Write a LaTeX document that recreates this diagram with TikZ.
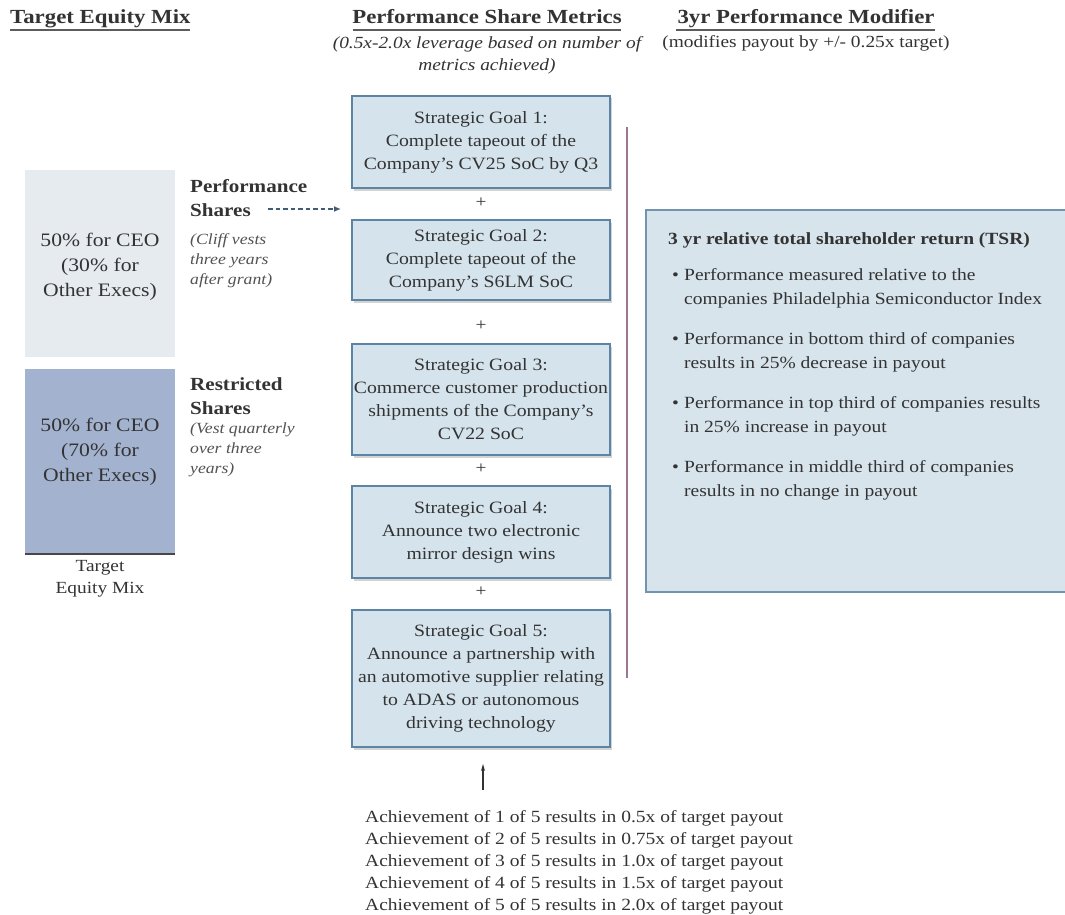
\documentclass[tikz,border=0pt]{standalone}
\usepackage{fontspec}
\setmainfont{Liberation Serif}[FakeStretch=1.14]
\usetikzlibrary{shadows,arrows.meta}
\definecolor{txt}{HTML}{333333}
\definecolor{lightbar}{HTML}{E6EBF0}
\definecolor{darkbar}{HTML}{A3B3CF}
\definecolor{goalfill}{HTML}{D5E3EC}
\definecolor{goaledge}{HTML}{5C84A5}
\definecolor{tsrfill}{HTML}{D7E4EC}
\definecolor{tsredge}{HTML}{7294B0}
\definecolor{vline}{HTML}{9A7892}
\tikzset{
  hdr/.style={font=\bfseries\fontsize{20}{23}\selectfont, text=txt, inner sep=0pt},
  sub/.style={font=\fontsize{17}{22}\selectfont, text=txt, inner sep=0pt, align=center},
  goalbox/.style={draw=goaledge, line width=1.2pt, fill=goalfill, minimum width=258pt, align=center,
     font=\fontsize{17.3}{23}\selectfont, text=txt, inner sep=0pt,
     drop shadow={shadow xshift=2pt, shadow yshift=-2.5pt, opacity=0.35}},
  bartext/.style={font=\fontsize{19}{25}\selectfont, text=txt, align=center, inner sep=0pt},
  sidebold/.style={font=\bfseries\fontsize{18.5}{24}\selectfont, text=txt, align=left, anchor=north west, inner sep=0pt},
  sideital/.style={font=\itshape\fontsize{15.5}{20}\selectfont, text=txt!85, align=left, anchor=north west, inner sep=0pt},
  plus/.style={font=\fontsize{17}{20}\selectfont, text=txt, inner sep=0pt},
  body/.style={font=\fontsize{17.1}{22}\selectfont, text=txt, inner sep=0pt, align=left},
}
\begin{document}
\begin{tikzpicture}[x=1pt,y=-1pt]
\useasboundingbox (0,0) rectangle (1065,915);
% headers
\node[hdr, anchor=base west] (h1) at (10,24) {Target Equity Mix};
\draw[txt!80, line width=1.6pt] (10,30) -- (190,30);
\node[hdr, anchor=base] (h2) at (487,24) {Performance Share Metrics};
\draw[txt!80, line width=1.6pt] (353,30) -- (621,30);
\node[sub, font=\itshape\fontsize{17}{22}\selectfont, anchor=north] (s2) at (487,36) {(0.5x-2.0x leverage based on number of\\metrics achieved)};
\node[hdr, anchor=base] (h3) at (806,24) {3yr Performance Modifier};
\draw[txt!80, line width=1.6pt] (676,30) -- (935,30);
\node[sub, anchor=north] (s3) at (806,35) {(modifies payout by +/- 0.25x target)};

% equity bars
\node[fill=lightbar, minimum width=150pt, minimum height=187pt, inner sep=0pt] (bar1) at (100,263.5) {};
\node[bartext] (bt1) at (100,267) {50\% for CEO\\(30\% for\\Other Execs)};
\node[fill=darkbar, minimum width=150pt, minimum height=185pt, inner sep=0pt] (bar2) at (100,461.5) {};
\node[bartext] (bt2) at (100,452) {50\% for CEO\\(70\% for\\Other Execs)};
\draw[txt!90, line width=2pt] (bar2.south west) -- (bar2.south east);
\node[sub, anchor=north] (tem) at (100,560) {Target\\Equity Mix};

% side labels
\node[sidebold] (ps) at (190,179) {Performance\\Shares};
\node[sideital] (psi) at (190,233) {(Cliff vests\\three years\\after grant)};
\node[sidebold] (rs) at (190,377) {Restricted\\Shares};
\node[sideital] (rsi) at (190,423) {(Vest quarterly\\over three\\years)};
\coordinate (da) at (268,209);
\coordinate (db) at (341,209);
\draw[goaledge!70!black, line width=1.4pt, dash pattern=on 4.5pt off 3pt, -{Latex[length=7pt,width=6pt]}] (da) -- (db);

% goal boxes
\node[goalbox, minimum height=92pt] (g1) at (481,142) {Strategic Goal 1:\\Complete tapeout of the\\Company’s CV25 SoC by Q3};
\node[plus] (p1) at (481,203) {+};
\node[goalbox, minimum height=80pt] (g2) at (481,260) {Strategic Goal 2:\\Complete tapeout of the\\Company’s S6LM SoC};
\node[plus] (p2) at (481,326) {+};
\node[goalbox, minimum height=111pt] (g3) at (481,399.5) {Strategic Goal 3:\\Commerce customer production\\shipments of the Company’s\\CV22 SoC};
\node[plus] (p3) at (481,469) {+};
\node[goalbox, minimum height=92pt] (g4) at (481,532) {Strategic Goal 4:\\Announce two electronic\\mirror design wins};
\node[plus] (p4) at (481,592) {+};
\node[goalbox, minimum height=137pt] (g5) at (481,678.5) {Strategic Goal 5:\\Announce a partnership with\\an automotive supplier relating\\to ADAS or autonomous\\driving technology};

% vertical line
\coordinate (v1) at (627,127);
\coordinate (v2) at (627,678);
\draw[vline, line width=1.3pt] (v1) -- (v2);

% TSR box
\node[draw=tsredge, line width=1.2pt, fill=tsrfill, minimum width=420pt, minimum height=382pt, inner sep=0pt] (tsr) at (856,401) {};
\node[font=\bfseries\fontsize{17.1}{22}\selectfont, text=txt, anchor=base west, inner sep=0pt] (tt) at (668,244) {3 yr relative total shareholder return (TSR)};
\foreach \yy/\la/\lb [count=\i] in {280/{Performance measured relative to the}/{companies Philadelphia Semiconductor Index},
  344/{Performance in bottom third of companies}/{results in 25\% decrease in payout},
  408/{Performance in top third of companies results}/{in 25\% increase in payout},
  472/{Performance in middle third of companies}/{results in no change in payout}}{
  \node[body, anchor=base west] (b\i) at (672,\yy) {•};
  \node[body, anchor=base west] (ba\i) at (684,\yy) {\la};
  \node[body, anchor=base west] (bb\i) at (684,\yy+24.5) {\lb};
}

% bottom arrow and text
\coordinate (a1) at (483,790);
\coordinate (a2) at (483,764);
\draw[txt, line width=1.3pt, -{Stealth[length=7pt,width=4pt]}] (a1) -- (a2);
\node[body, anchor=north west] (ach) at (365,810) {Achievement of 1 of 5 results in 0.5x of target payout\\Achievement of 2 of 5 results in 0.75x of target payout\\Achievement of 3 of 5 results in 1.0x of target payout\\Achievement of 4 of 5 results in 1.5x of target payout\\Achievement of 5 of 5 results in 2.0x of target payout};
\end{tikzpicture}
\end{document}
